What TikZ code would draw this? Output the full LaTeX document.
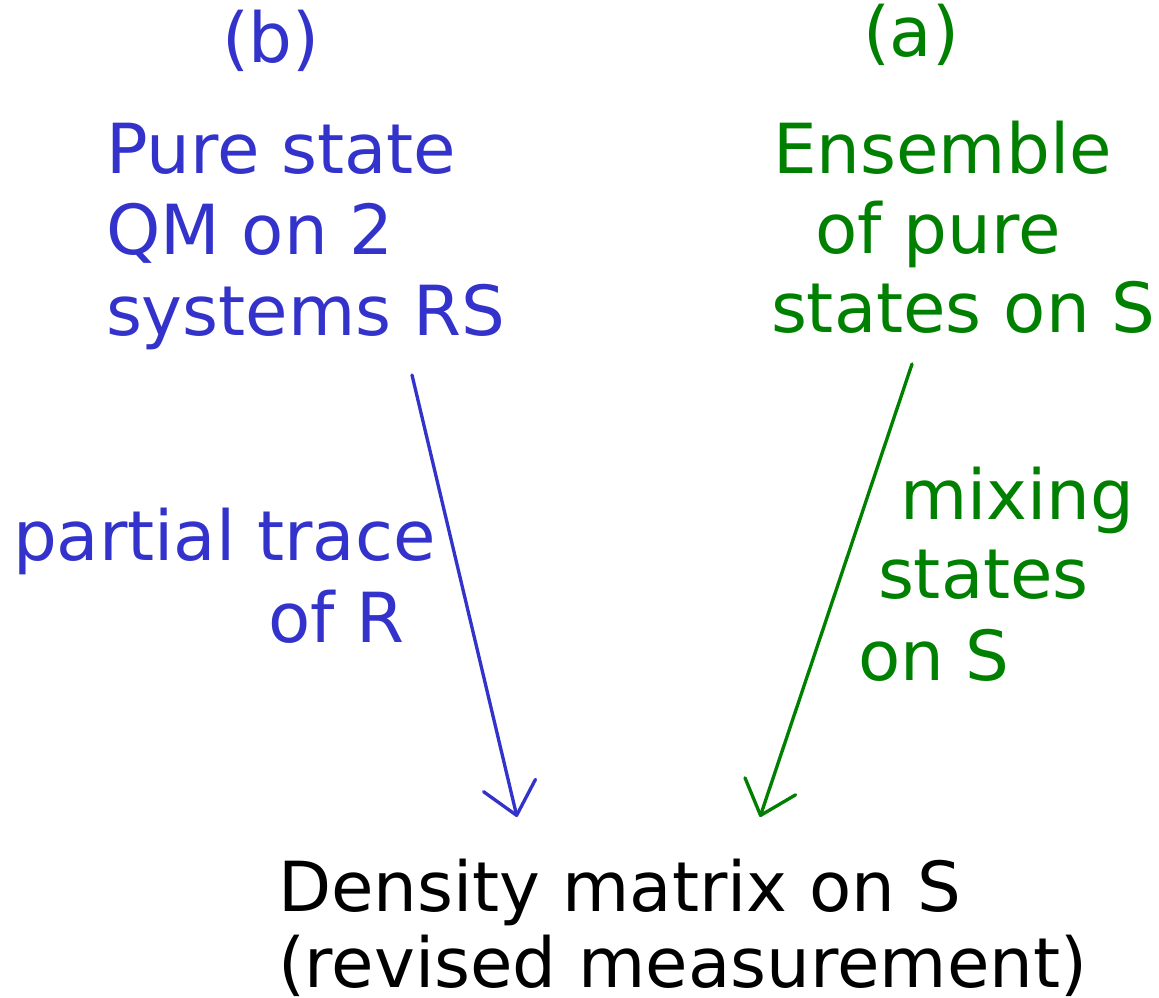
\documentclass[tikz,border=0pt]{standalone}
\usepackage{fontspec}
\setmainfont{DejaVu Sans}
\usetikzlibrary{arrows.meta}
\definecolor{qblue}{RGB}{51,51,204}
\definecolor{qgreen}{RGB}{0,128,0}
\begin{document}
\begin{tikzpicture}[x=0.75pt,y=-0.75pt,
  txt/.style={anchor=base west,inner sep=0pt,outer sep=0pt,font=\fontsize{51.8pt}{60pt}\selectfont},
  bl/.style={txt,text=qblue},
  gr/.style={txt,text=qgreen},
  bk/.style={txt,text=black},
  conn/.style={line width=2.5pt,line cap=round,-{Straight Barb[length=23pt,width=40pt,line cap=round,round]}}]
\useasboundingbox (0,0) rectangle (1159,998);
% labels
\node[bl] (lb) at (222,63) {(b)};
\node[gr] (la) at (863,57) {(a)};
% blue block
\node[bl] (b1) at (106,174) {Pure state};
\node[bl] (b2) at (106,255) {QM on 2};
\node[bl] (b3) at (106,335) {systems RS};
% green block
\node[gr] (g1) at (773,174) {Ensemble};
\node[gr] (g2) at (815,254) {of pure};
\node[gr] (g3) at (771,333) {states on S};
% side labels
\node[bl] (p1) at (13,560) {partial trace};
\node[bl] (p2) at (268,642) {of R};
\node[gr] (m1) at (900,519) {mixing};
\node[gr] (m2) at (878,598) {states};
\node[gr] (m3) at (858,680) {on S};
% bottom
\node[bk] (d1) at (278,911) {Density matrix on S};
\node[bk] (d2) at (278,987) {(revised measurement)};
% connectors
\coordinate (bs) at (412,375);
\coordinate (bt) at (517,817);
\coordinate (gs) at (912,364);
\coordinate (gt) at (760,817);
\draw[conn,draw=qblue] (bs) -- (bt);
\draw[conn,draw=qgreen] (gs) -- (gt);
\end{tikzpicture}
\end{document}
